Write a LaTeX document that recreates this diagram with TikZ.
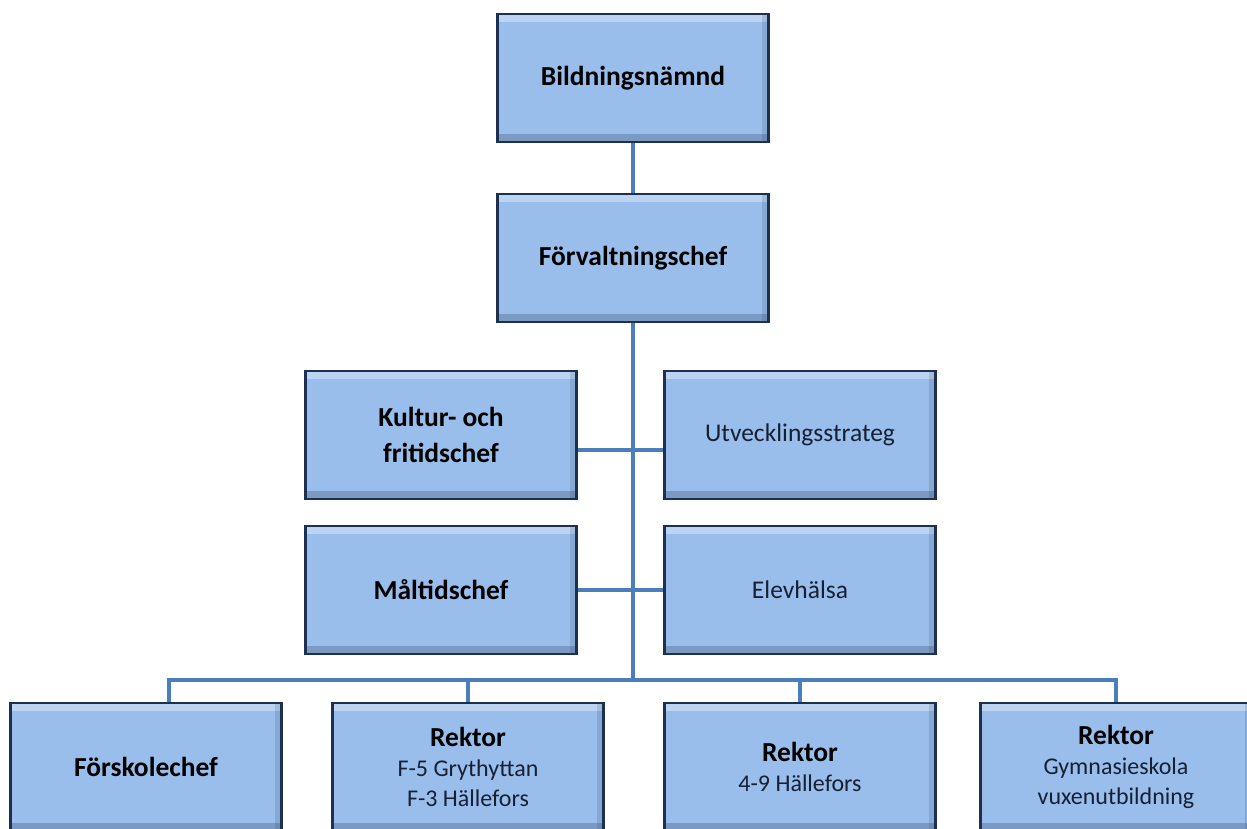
\documentclass[tikz,border=0pt]{standalone}
\usepackage{fontspec}
\setmainfont{Carlito}
\usetikzlibrary{positioning, calc}
\definecolor{orgFill}{RGB}{153, 190, 236}
\definecolor{orgEdge}{RGB}{30, 48, 80}
\definecolor{orgLine}{RGB}{74, 126, 190}
\definecolor{orgText}{RGB}{22, 32, 52}
\newcommand{\subline}[1]{{\fontsize{24}{30}\selectfont\mdseries\color{orgText}#1}}
\tikzset{
    base/.style={
        font=\fontsize{27.5}{36}\selectfont\bfseries,
        align=center,
        text=black
    },
    unit/.style={
        base,
        rectangle,
        draw=orgEdge,
        line width=2.5pt,
        fill=orgFill,
        minimum width=271pt,
        minimum height=128pt,
        inner sep=2pt,
        path picture={
            \fill[white, opacity=0.35] (path picture bounding box.north west) rectangle ([yshift=-8pt]path picture bounding box.north east);
            \fill[orgEdge, opacity=0.25] (path picture bounding box.south west) rectangle ([yshift=8pt]path picture bounding box.south east);
            \fill[orgEdge, opacity=0.15] (path picture bounding box.south east) rectangle ([xshift=-7pt]path picture bounding box.north east);
        }
    },
    plain/.style={
        font=\fontsize{25.5}{30}\selectfont\mdseries,
        text=orgText
    },
    school/.style={
        font=\fontsize{27.5}{30}\selectfont\bfseries
    },
    link/.style={
        draw=orgLine,
        line width=4pt
    }
}
\begin{document}
\begin{tikzpicture}[x=1pt, y=-1pt]
    \useasboundingbox (0,0) rectangle (1247,828);

    % top of the chart
    \node[unit] (bild) at (633,78) {Bildningsnämnd};
    \node[unit] (forv) at (633,258) {Förvaltningschef};

    % staff level
    \node[unit] (kultur) at (441,435) {Kultur- och\\fritidschef};
    \node[unit, plain] (utv) at (800,435) {Utvecklingsstrateg};
    \node[unit] (malt) at (441,590) {Måltidschef};
    \node[unit, plain] (elev) at (800,590) {Elevhälsa};

    % schools
    \node[unit] (forsk) at (146,767) {Förskolechef};
    \node[unit, school] (rek1) at (468,767) {Rektor\\\subline{F-5 Grythyttan}\\\subline{F-3 Hällefors}};
    \node[unit, school] (rek2) at (800,767) {Rektor\\\subline{4-9 Hällefors}};
    \node[unit, school] (rek3) at (1116,767) {Rektor\\\subline{Gymnasieskola}\\\subline{vuxenutbildning}};

    % connectors
    \coordinate (bus) at (633,680);
    \draw[link] (bild) -- (forv);
    \draw[link] (forv) -- (bus);
    \draw[link] ([yshift=-15pt]kultur.east) -- ([yshift=-15pt]utv.west);
    \draw[link] (malt.east) -- (elev.west);
    \draw[link] ([xshift=23pt]forsk.north) |- (bus) -| (rek3.north);
    \foreach \n in {rek1, rek2} {
        \draw[link] (\n.north) -- (\n.north |- bus);
    }
\end{tikzpicture}
\end{document}
